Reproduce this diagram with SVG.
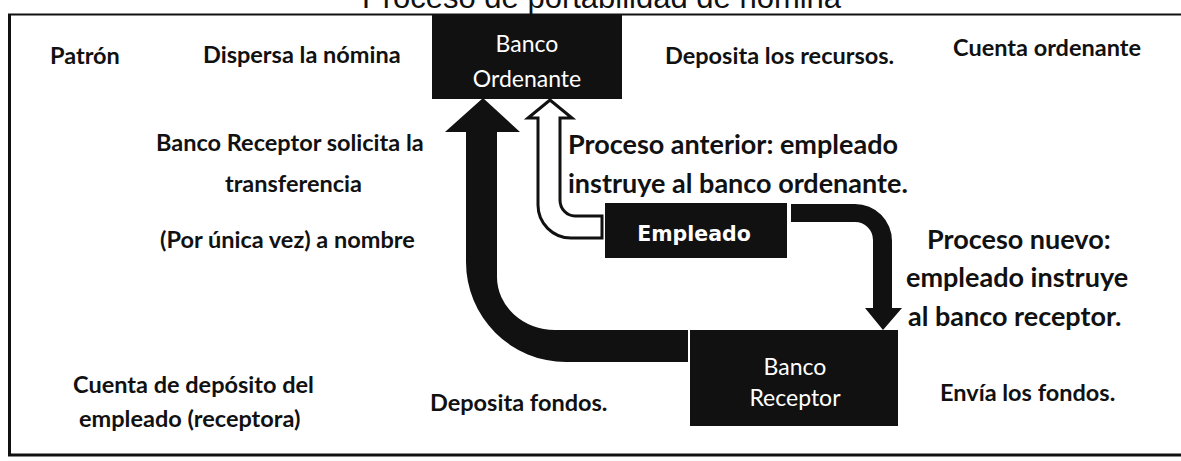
<svg xmlns="http://www.w3.org/2000/svg" width="1181" height="461" viewBox="0 0 1181 461">
<style>
.lbl{font-family:Lato,"Liberation Sans",sans-serif;font-weight:bold;font-size:23.5px;fill:#111}
.big{font-size:27px}
.box{fill:#111}
.bt{font-family:Lato,"Liberation Sans",sans-serif;fill:#fff;font-size:23px;text-anchor:middle}
.frame{stroke:#111;fill:none}
</style>
<rect width="1181" height="461" fill="#fff"/>
<text x="362" y="8" font-family="Liberation Sans, sans-serif" font-size="31" fill="#111">Proceso de portabilidad de nómina</text>
<g id="frame">
<line class="frame" x1="8" y1="14.5" x2="1181" y2="14.5" stroke-width="2"/>
<line class="frame" x1="9.5" y1="14" x2="9.5" y2="456" stroke-width="3"/>
<line class="frame" x1="8" y1="455" x2="1181" y2="455" stroke-width="3"/>
</g>
<g id="connectors">
<path d="M688,330 L555,330 A58,53 0 0 1 497,277 L497,132 L520,132 L483,98 L445,132 L466,132 L466,262 A100,100 0 0 0 566,362 L688,362 Z" fill="#111"/>
<path d="M602,216 L575,216 A15,16 0 0 1 560,200 L560,118 L572,118 L550,100 L528,118 L538,118 L538,205 A33,33 0 0 0 571,238 L602,238 Z" fill="#fff" stroke="#111" stroke-width="3" stroke-linejoin="miter"/>
<path d="M791,204 L855,204 A37,37 0 0 1 892,241 L892,308 L902,308 L883,330 L865,308 L873,308 L873,240 A18,18 0 0 0 855,222 L791,222 Z" fill="#111"/>
</g>
<g id="banco-ordenante">
<rect class="box" x="432" y="15" width="190" height="84"/>
<text class="bt" x="527" y="52">Banco</text>
<text class="bt" x="527" y="87" font-size="22">Ordenante</text>
</g>
<g id="empleado">
<rect class="box" x="605" y="203" width="182" height="55" fill="#1c1c1c"/>
<text x="694" y="241" font-family="DejaVu Sans, sans-serif" font-weight="bold" font-size="20.5" fill="#fff" text-anchor="middle">Empleado</text>
</g>
<g id="banco-receptor">
<rect class="box" x="690" y="330" width="208" height="96"/>
<text class="bt" x="795" y="375" font-size="25">Banco</text>
<text class="bt" x="795" y="406" font-size="25">Receptor</text>
</g>
<g id="labels">
<text class="lbl" x="50" y="64">Patrón</text>
<text class="lbl" x="203" y="63">Dispersa la nómina</text>
<text class="lbl" x="665" y="64">Deposita los recursos.</text>
<text class="lbl" x="953" y="56">Cuenta ordenante</text>
<text class="lbl big" x="568" y="154">Proceso anterior: empleado</text>
<text class="lbl big" x="568" y="193">instruye al banco ordenante.</text>
<text class="lbl" x="156" y="151">Banco Receptor solicita la</text>
<text class="lbl" x="225" y="192">transferencia</text>
<text class="lbl" x="160" y="248">(Por única vez) a nombre</text>
<text class="lbl big" x="927" y="249">Proceso nuevo:</text>
<text class="lbl big" x="906" y="287">empleado instruye</text>
<text class="lbl big" x="908" y="326">al banco receptor.</text>
<text class="lbl" x="940" y="401">Envía los fondos.</text>
<text class="lbl" x="73" y="393">Cuenta de depósito del</text>
<text class="lbl" x="79" y="427">empleado (receptora)</text>
<text class="lbl" x="430" y="411">Deposita fondos.</text>
</g>
</svg>
